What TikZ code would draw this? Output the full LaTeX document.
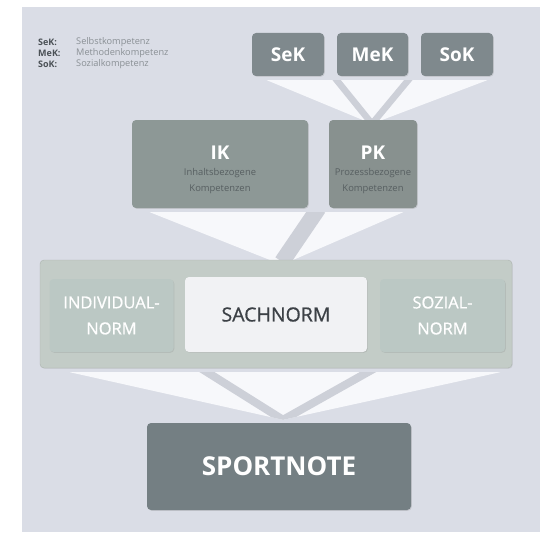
\documentclass[tikz,border=0pt]{standalone}
\usepackage{fontspec}
\setmainfont{Open Sans}
\usetikzlibrary{calc,shadows}
\pgfdeclarelayer{bgl}
\pgfdeclarelayer{back}
\pgfsetlayers{bgl,back,main}
\definecolor{bgc}{HTML}{DADDE6}
\definecolor{stripec}{HTML}{CDD0D8}
\definecolor{func}{HTML}{F7F8FB}
\definecolor{topc}{HTML}{7F898D}
\definecolor{ikc}{HTML}{8D9896}
\definecolor{pkc}{HTML}{88918F}
\definecolor{contc}{HTML}{C3CCC7}
\definecolor{sidec}{HTML}{BBC8C4}
\definecolor{sachc}{HTML}{F1F2F4}
\definecolor{sachtx}{HTML}{3C4146}
\definecolor{sportc}{HTML}{747F83}
\definecolor{legab}{HTML}{4A5055}
\definecolor{legtx}{HTML}{8A9095}
\definecolor{subc}{HTML}{575F61}
\begin{document}
\begin{tikzpicture}[x=1pt,y=-1pt,
  box/.style={rounded corners=4pt, inner sep=0pt, draw=none},
  shad/.style={drop shadow={opacity=0.22, shadow xshift=0.8pt, shadow yshift=-0.8pt}},
  topbox/.style={box, shad, fill=topc, minimum width=72pt, minimum height=43pt, text=white, font=\bfseries\fontsize{19}{21}\selectfont},
  midbox/.style={box, shad, minimum height=88pt},
  titletx/.style={text=white, inner sep=0pt, font=\bfseries\fontsize{19}{21}\selectfont},
  subtx/.style={text=subc, inner sep=0pt, align=center, font=\fontsize{9.4}{16}\selectfont},
  sidebox/.style={box, shad, fill=sidec, minimum width=124pt, minimum height=73pt, text=white, align=center, font=\addfontfeature{FakeBold=0.8}\fontsize{16.5}{26}\selectfont},
  legabs/.style={anchor=west, inner sep=0pt, text=legab, font=\bfseries\fontsize{9}{10}\selectfont},
  legtxs/.style={anchor=west, inner sep=0pt, text=legtx, font=\fontsize{9.2}{10}\selectfont},
  stripe/.style={draw=stripec}
]
\useasboundingbox (0,0) rectangle (540,532);
\begin{pgfonlayer}{bgl}
  \fill[white] (0,0) rectangle (540,532);
  \fill[bgc] (22,7) rectangle (540,532);
\end{pgfonlayer}

% legend
\node[legabs] (l1a) at (38,42) {SeK:};
\node[legtxs] (l1b) at (76,42) {Selbstkompetenz};
\node[legabs] (l2a) at (38,53) {MeK:};
\node[legtxs] (l2b) at (76,53) {Methodenkompetenz};
\node[legabs] (l3a) at (38,64) {SoK:};
\node[legtxs] (l3b) at (76,64) {Sozialkompetenz};

% top boxes
\node[topbox] (sek) at (288,54.5) {SeK};
\node[topbox, minimum width=71pt] (mek) at (372.5,54.5) {MeK};
\node[topbox] (sok) at (457,54.5) {SoK};

% middle boxes
\node[midbox, fill=ikc, minimum width=176pt] (ik) at (220,164) {};
\node[titletx] (ikt) at ($(ik.center)+(0,-11)$) {IK};
\node[subtx] (iks) at ($(ik.center)+(0,17)$) {Inhaltsbezogene\\Kompetenzen};
\node[midbox, fill=pkc, minimum width=88pt] (pk) at (373,164) {};
\node[titletx] (pkt) at ($(pk.center)+(0,-11)$) {PK};
\node[subtx] (pks) at ($(pk.center)+(0,17)$) {Prozessbezogene\\Kompetenzen};

% norm container
\node[box, fill=contc, draw=contc!88!black, line width=0.4pt, drop shadow={opacity=0.15, shadow xshift=0.8pt, shadow yshift=-0.8pt}, minimum width=472pt, minimum height=108pt] (cont) at (276,314) {};
\node[sidebox] (ind) at (111.5,315.5) {INDIVIDUAL-\\NORM};
\node[box, shad, fill=sachc, minimum width=182pt, minimum height=75pt, text=sachtx, font=\addfontfeature{FakeBold=0.8}\fontsize{19.5}{22}\selectfont] (sach) at (276,314.5) {SACHNORM};
\node[sidebox, minimum width=125pt] (soz) at (442.5,315.5) {SOZIAL-\\NORM};

% result
\node[box, shad, fill=sportc, minimum width=264pt, minimum height=87pt, text=white, font=\bfseries\fontsize{26}{28}\selectfont] (sport) at (279,466.5) {SPORTNOTE};

% funnels
\begin{pgfonlayer}{back}
  % top funnel
  \coordinate (ta) at ($(sek.south west)+(15,4)$);
  \coordinate (tb) at ($(sok.south east)+(-6,4)$);
  \coordinate (tc) at ($(pk.north)+(-1,4)$);
  \fill[func] (ta) -- (tb) -- (tc) -- cycle;
  \begin{scope}
    \clip (ta) -- (tb) -- (tc) -- cycle;
    \draw[stripe, line width=6.5pt] ($(sek.south east)!0.5!(mek.south west)+(3,0)$) -- (tc);
    \draw[stripe, line width=6.5pt] ($(mek.south east)!0.5!(sok.south west)+(-3,0)$) -- (tc);
  \end{scope}
  % middle funnel
  \coordinate (ma) at ($(ik.south west)+(18,4)$);
  \coordinate (mb) at ($(pk.south east)+(-14,4)$);
  \coordinate (mc) at ($(sach.north)+(6,-12)$);
  \fill[func] (ma) -- (mb) -- (mc) -- cycle;
  \begin{scope}
    \clip (ma) -- (mb) -- (mc) -- cycle;
    \draw[stripe, line width=16pt] ($(ik.south east)!0.5!(pk.south west)$) -- ($(sach.north)+(6,-15)$);
  \end{scope}
  % bottom funnel
  \coordinate (ba) at ($(cont.south west)+(30,4)$);
  \coordinate (bb) at ($(cont.south east)+(-12,4)$);
  \coordinate (bc) at ($(sport.north)+(4,-3)$);
  \fill[func] (ba) -- (bb) -- (bc) -- cycle;
  \begin{scope}
    \clip (ba) -- (bb) -- (bc) -- cycle;
    \draw[stripe, line width=8pt] ($(cont.south west)+(161,0)$) -- (bc);
    \draw[stripe, line width=8pt] ($(cont.south west)+(335,0)$) -- (bc);
  \end{scope}
\end{pgfonlayer}
\end{tikzpicture}
\end{document}
